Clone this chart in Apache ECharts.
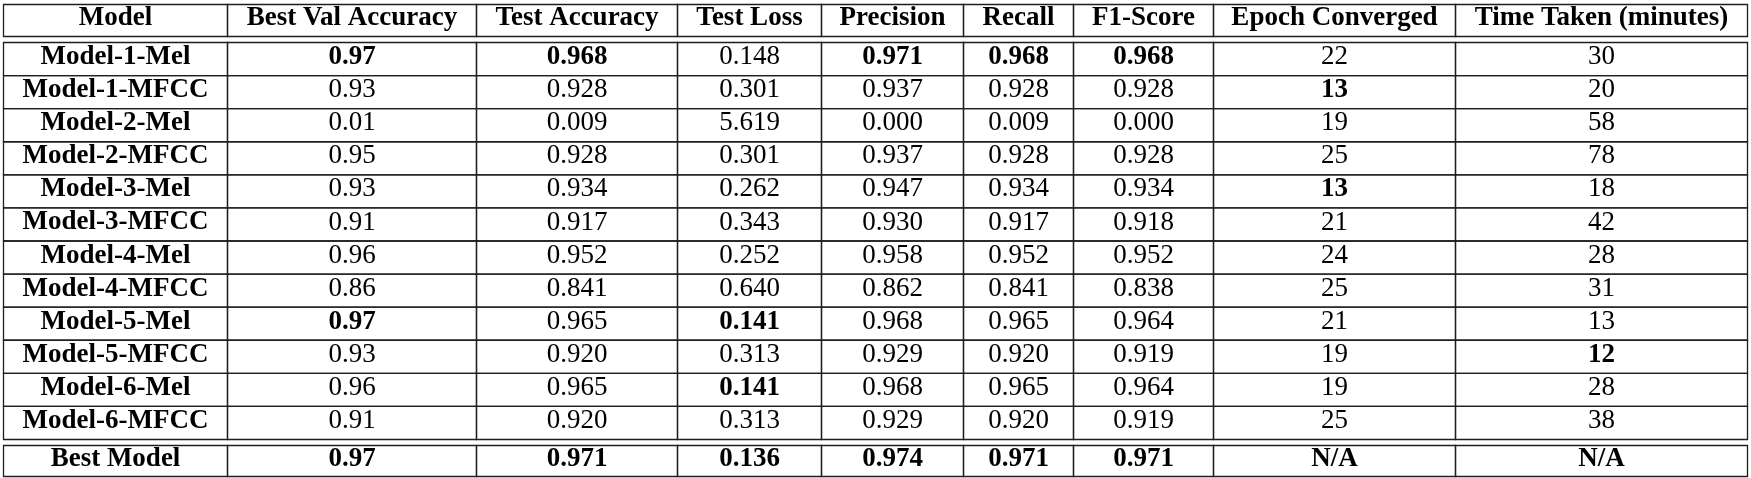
<!DOCTYPE html>
<html>
<head>
<meta charset="utf-8">
<script src="https://cdn.jsdelivr.net/npm/echarts@6/dist/echarts.min.js"></script>
<style>
  html, body { margin: 0; padding: 0; background: #fff; }
  #chart { width: 1751px; height: 478px; }
</style>
</head>
<body>
<div id="chart"></div>
<script>
// ---- data ----
const columnLabels = ['Model', 'Best Val Accuracy', 'Test Accuracy', 'Test Loss', 'Precision', 'Recall', 'F1-Score', 'Epoch Converged', 'Time Taken (minutes)'];
const models = ['Model-1-Mel', 'Model-1-MFCC', 'Model-2-Mel', 'Model-2-MFCC', 'Model-3-Mel', 'Model-3-MFCC', 'Model-4-Mel', 'Model-4-MFCC', 'Model-5-Mel', 'Model-5-MFCC', 'Model-6-Mel', 'Model-6-MFCC', 'Best Model'];
const bestValAccuracy = [0.97, 0.93, 0.01, 0.95, 0.93, 0.91, 0.96, 0.86, 0.97, 0.93, 0.96, 0.91, 0.97];
const testAccuracy = [0.968, 0.928, 0.009, 0.928, 0.934, 0.917, 0.952, 0.841, 0.965, 0.920, 0.965, 0.920, 0.971];
const testLoss = [0.148, 0.301, 5.619, 0.301, 0.262, 0.343, 0.252, 0.640, 0.141, 0.313, 0.141, 0.313, 0.136];
const precision = [0.971, 0.937, 0.000, 0.937, 0.947, 0.930, 0.958, 0.862, 0.968, 0.929, 0.968, 0.929, 0.974];
const recall = [0.968, 0.928, 0.009, 0.928, 0.934, 0.917, 0.952, 0.841, 0.965, 0.920, 0.965, 0.920, 0.971];
const f1Score = [0.968, 0.928, 0.000, 0.928, 0.934, 0.918, 0.952, 0.838, 0.964, 0.919, 0.964, 0.919, 0.971];
const epochConverged = [22, 13, 19, 25, 13, 21, 24, 25, 21, 19, 19, 25, null];
const timeTaken = [30, 20, 58, 78, 18, 42, 28, 31, 13, 12, 28, 38, null];
const decimals = [null, 2, 3, 3, 3, 3, 3, 0, 0];
// bold cells: [modelIndex, columnIndex]
const boldCells = [[0, 1], [0, 2], [0, 4], [0, 5], [0, 6], [1, 7], [4, 7], [8, 1], [8, 3], [9, 8], [10, 3]];
const boldRows = [12];

// ---- layout ----
const colEdges = [0, 224, 473, 674, 818, 960, 1070, 1210, 1452, 1744];
const headerBox = [0, 32];
const bodyTop = 38, rowH = 33.083;
const bestBox = [441, 472];

function rowBox(r) {
  if (r === 0) return headerBox;
  if (r <= 12) return [bodyTop + (r - 1) * rowH, bodyTop + r * rowH];
  return bestBox;
}

const columnsData = [models, bestValAccuracy, testAccuracy, testLoss, precision, recall, f1Score, epochConverged, timeTaken];

const cells = [];
columnLabels.forEach((lab, c) => cells.push({ value: [c, 0], text: lab, bold: true }));
models.forEach((m, i) => {
  for (let c = 0; c < columnsData.length; c++) {
    const v = columnsData[c][i];
    let text;
    if (c === 0) text = v;
    else if (v === null) text = 'N/A';
    else text = v.toFixed(decimals[c]);
    const bold = c === 0 || boldRows.includes(i) || boldCells.some(b => b[0] === i && b[1] === c);
    cells.push({ value: [c, i + 1], text: text, bold: bold });
  }
});

const chart = echarts.init(document.getElementById('chart'), null, { renderer: 'canvas' });
chart.setOption({
  animation: false,
  backgroundColor: '#fff',
  grid: { left: 3.5, top: 4.5, width: 1744, height: 472 },
  xAxis: { type: 'value', min: 0, max: 1744, show: false },
  yAxis: { type: 'value', min: 0, max: 472, inverse: true, show: false },
  series: [{
    type: 'custom',
    data: cells,
    renderItem: function (params, api) {
      const c = api.value(0), r = api.value(1);
      const cell = cells[params.dataIndex];
      const box = rowBox(r);
      const p0 = api.coord([colEdges[c], box[0]]);
      const p1 = api.coord([colEdges[c + 1], box[1]]);
      return {
        type: 'group',
        children: [
          {
            type: 'rect',
            shape: { x: p0[0], y: p0[1], width: p1[0] - p0[0], height: p1[1] - p0[1] },
            style: { fill: null, stroke: '#1e1e1e', lineWidth: 1.3 }
          },
          {
            type: 'text',
            x: (p0[0] + p1[0]) / 2,
            y: (p0[1] + p1[1]) / 2 - 2,
            style: {
              text: cell.text,
              fontFamily: 'Liberation Serif',
              fontSize: 27,
              fontWeight: cell.bold ? 'bold' : 'normal',
              fill: '#000',
              align: 'center',
              verticalAlign: 'middle'
            }
          }
        ]
      };
    }
  }]
});
</script>
</body>
</html>
